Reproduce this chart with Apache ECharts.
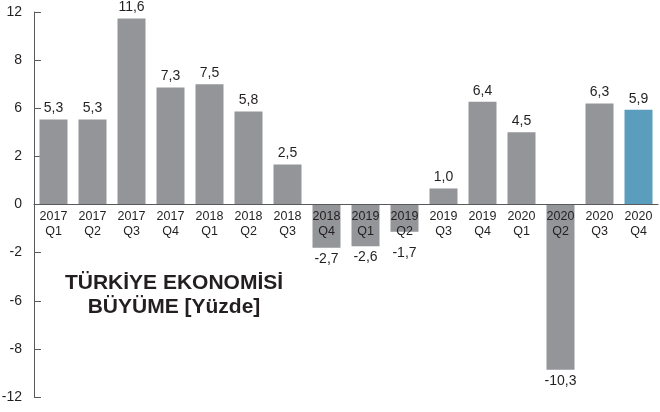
<!DOCTYPE html>
<html>
<head>
<meta charset="utf-8">
<script src="https://cdn.jsdelivr.net/npm/echarts@6/dist/echarts.min.js"></script>
<style>
  html, body { margin: 0; padding: 0; background: #fff; }
  #chart { width: 660px; height: 412px; }
</style>
</head>
<body>
<div id="chart"></div>
<script>
// çeyrekler
const years = ['2017', '2017', '2017', '2017', '2018', '2018', '2018', '2018',
  '2019', '2019', '2019', '2019', '2020', '2020', '2020', '2020'];
const quarters = ['Q1', 'Q2', 'Q3', 'Q4', 'Q1', 'Q2', 'Q3', 'Q4',
  'Q1', 'Q2', 'Q3', 'Q4', 'Q1', 'Q2', 'Q3', 'Q4'];
// büyüme (%)
const growth = [5.3, 5.3, 11.6, 7.3, 7.5, 5.8, 2.5, -2.7,
  -2.6, -1.7, 1.0, 6.4, 4.5, -10.3, 6.3, 5.9];
// eksen etiketleri (orijinal grafikteki gibi)
const yTickValues = [-12, -9, -6, -3, 0, 3, 6, 9, 12];
const yTickLabels = ['-12', '-8', '-6', '-2', '0', '2', '6', '8', '12'];

const FONT = '"Liberation Sans Narrow", "Liberation Sans", Arial, sans-serif';
const GRAY = '#939598';
const BLUE = '#5a9dbc';
const TEXT = '#231f20';

const categories = years.map((y, i) => y + '\n' + quarters[i]);

const chart = echarts.init(document.getElementById('chart'));

chart.setOption({
  animation: false,
  textStyle: { fontFamily: FONT },
  title: {
    text: 'TÜRKİYE EKONOMİSİ\nBÜYÜME [Yüzde]',
    left: 169,
    top: 266,
    textAlign: 'center',
    textStyle: {
      fontFamily: 'Liberation Sans, Arial, sans-serif',
      fontWeight: 'bold',
      fontSize: 21,
      lineHeight: 24,
      color: TEXT
    }
  },
  grid: { left: 34, right: 2, top: 12, bottom: 15, outerBoundsMode: 'none', containLabel: false },
  xAxis: {
    type: 'category',
    data: categories,
    z: 10,
    // eksen çizgisi ve etiketleri sıfır hizasında
    offset: -192.5,
    axisLine: { onZero: false, lineStyle: { color: '#58595b', width: 1 } },
    axisTick: { inside: true, length: 5, lineStyle: { color: '#58595b' } },
    axisLabel: {
      color: TEXT,
      fontSize: 12.5,
      lineHeight: 15,
      margin: 5,
      interval: 0
    }
  },
  yAxis: {
    type: 'value',
    min: -12,
    max: 12,
    interval: 3,
    splitLine: { show: false },
    axisLine: { show: true, lineStyle: { color: '#58595b', width: 1 } },
    axisTick: { show: true, inside: true, length: 7, lineStyle: { color: '#58595b' } },
    axisLabel: {
      color: TEXT,
      fontSize: 14,
      margin: 12,
      formatter: v => {
        const i = yTickValues.indexOf(v);
        return i >= 0 ? yTickLabels[i] : '';
      }
    }
  },
  series: [{
    type: 'bar',
    barWidth: 28,
    data: growth.map((v, i) => ({
      value: v,
      itemStyle: { color: i === growth.length - 1 ? BLUE : GRAY },
      // kısa negatif çubuklarda etiket eksen yazılarının altına insin
      label: { position: v < 0 ? 'bottom' : 'top', distance: v < 0 && v > -2.5 ? 14 : 4 }
    })),
    label: {
      show: true,
      color: TEXT,
      fontSize: 14,
      formatter: p => p.value.toFixed(1).replace('.', ',')
    }
  }]
});
</script>
</body>
</html>
